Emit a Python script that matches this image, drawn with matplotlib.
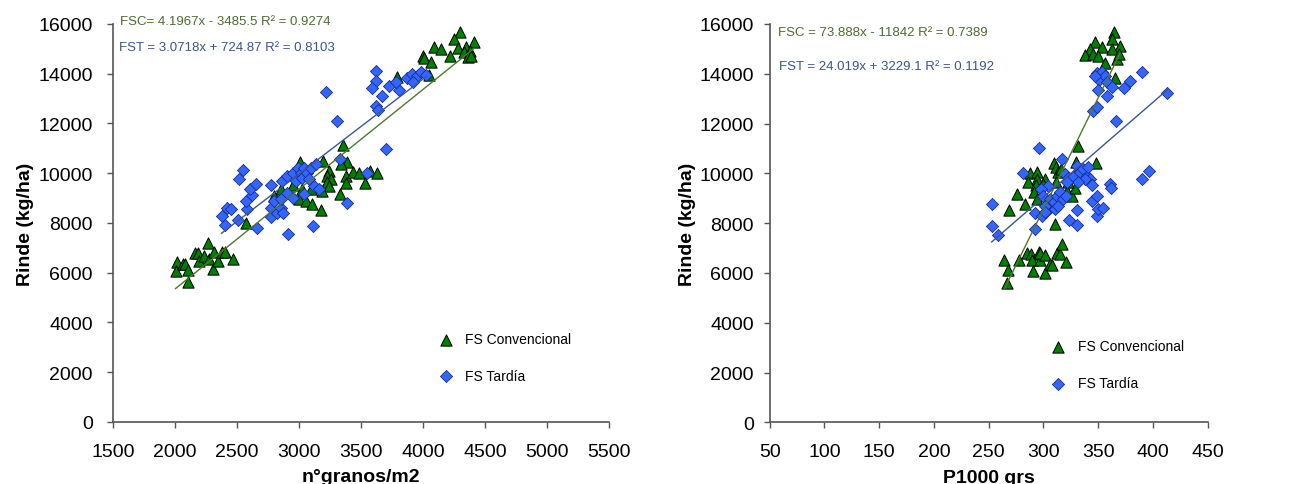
import numpy as np
import matplotlib
matplotlib.use("Agg")
import matplotlib.pyplot as plt

plt.rcParams["font.family"] = ["Liberation Sans", "DejaVu Sans"]

# rendimiento vs n° granos/m2
fsc_granos = [2015, 2004, 2063, 2079, 2106, 2106, 2162, 2184, 2195, 2232, 2267, 2273,
              2305, 2318, 2347, 2380, 2404, 2471,
              3357, 3383, 3335, 3196, 3007, 3241, 3228, 3254, 3222, 3375, 3434, 3482,
              3375, 3244, 3188, 3099, 3026, 2954, 2852, 2798, 2999, 3053, 3107, 3180,
              3330, 2573, 3531, 3576, 3630,
              4295, 4247, 4086, 4145, 4220, 4279, 4349, 4408, 4327, 4381, 4363, 4386,
              4000, 4011, 4065, 4046, 3791]
fsc_rinde_g = [6436, 6057, 6367, 6367, 6098, 5614, 6798, 6798, 6488, 6690, 7173, 6540,
               6153, 6838, 6488, 6838, 6838, 6540,
               11123, 10450, 10357, 10490, 10450, 10087, 9886, 9753, 9644, 9886, 10047, 10023,
               9619, 9483, 9281, 9350, 9350, 9511, 9350, 9079, 8947, 8879, 8745, 8516,
               9148, 7979, 9619, 10087, 10023,
               15662, 15394, 15084, 14991, 14722, 15020, 15084, 15260, 14857, 14923, 14657, 14722,
               14722, 14617, 14456, 13944, 13851]

fst_granos = [3617, 3619, 3590, 3724, 3671, 3810, 3872, 3912, 3952, 3984, 4027, 3923,
              3786, 3619, 3635, 3214, 3308, 3703,
              3550, 3330, 3389, 3115, 2914, 2659, 2508, 2401, 2375, 2423, 2450, 2584,
              2576, 2624, 2603, 2651, 2512, 2552, 2772, 2772, 2772, 2798, 2825, 2852,
              2874, 2866, 2906, 2951, 2973, 2991, 3013, 3040, 3026, 3067, 3093, 3134,
              3080, 2906, 2954, 3040, 3120, 3160, 2852]
fst_rinde_g = [14117, 13714, 13420, 13488, 13109, 13351, 13811, 13984, 13891, 14077, 13944, 13674,
               13649, 12682, 12533, 13246, 12102, 10990,
               10023, 10559, 8785, 7871, 7536, 7778, 8112, 7911, 8274, 8584, 8544, 8544,
               8879, 9108, 9378, 9551, 9781, 10115, 9511, 8612, 8249, 8879, 8411, 8612,
               8411, 9685, 9886, 10023, 9685, 10224, 10023, 10224, 9818, 10023, 10224, 10357,
               9753, 9216, 9015, 9148, 9483, 9350, 8947]

# rendimiento vs P1000
fsc_p1000 = [264.3, 267.4, 266.8, 277.8, 285.1, 288.2, 289.1, 290.6, 296.0, 296.6, 296.9,
             301.8, 301.8, 306.4, 308.0, 312.0, 314.8, 317.3, 320.3,
             331.3, 347.7, 309.6, 311.5, 313.6, 316.0, 329.7, 330.3, 287.7, 293.8, 294.4,
             286.2, 301.4, 299.9, 293.2, 275.6, 291.6, 293.8, 283.1, 268.8, 311.5, 321.2,
             325.8, 328.8, 322.7, 310.5,
             364.7, 362.9, 347.1, 353.2, 369.9, 342.5, 337.9, 345.0, 350.1, 362.3, 366.9,
             369.0, 356.2, 365.3]
fsc_rinde_p = [6512, 6123, 5588, 6512, 6822, 6754, 6525, 6083, 6846, 6512, 6790,
               6713, 6018, 6364, 6310, 6794, 6754, 7156, 6444,
               11111, 10416, 10416, 10243, 10043, 10175, 10469, 10175, 10014, 10043, 9773,
               9641, 9773, 9573, 9533, 9171, 9239, 8970, 8769, 8540, 9641, 9303,
               9103, 9400, 9641, 7966,
               15667, 15397, 15265, 15064, 15128, 14996, 14754, 14795, 14727, 14996, 14594,
               14795, 14433, 13831]

fst_p1000 = [296.2, 281.6, 252.7, 252.7, 258.8, 292.3, 292.3, 298.4, 323.3, 330.3, 330.3,
             344.0, 348.6, 348.6, 350.1, 354.7, 360.8, 361.4, 389.7, 396.6, 413.1, 389.7,
             379.0, 373.8, 366.2, 345.5, 349.2, 348.6, 353.2, 351.0, 356.2, 358.3, 362.3,
             350.1, 357.8, 347.1,
             316.7, 319.7, 322.7, 327.3, 330.3, 333.4, 336.4, 339.5, 341.0, 342.5, 338.0,
             331.8, 344.0, 304.4, 297.5, 299.9, 306.0, 309.0, 312.1, 315.1, 305.3, 310.5,
             313.6, 301.4, 318.2, 320.6, 301.4, 321.2]
fst_rinde_p = [11006, 10014, 8769, 7873, 7524, 7765, 8408, 8275, 8114, 7926, 8540,
               8902, 9103, 8300, 8569, 8597, 9573, 9400, 9773, 10107, 13228, 14083,
               13722, 13417, 12115, 12517, 12654, 14031, 14083, 13762, 13899, 13682, 13457,
               13361, 13120, 13924,
               10577, 9974, 9801, 9842, 10308, 10043, 10175, 9906, 10243, 9773, 9773,
               9667, 9533, 9506, 9373, 9103, 8970, 8809, 9103, 9239, 8569, 8569,
               8702, 8676, 8970, 9103, 8436, 9667]

eq_g = ["FSC= 4.1967x - 3485.5 R² = 0.9274", "FST = 3.0718x + 724.87 R² = 0.8103"]
eq_p = ["FSC = 73.888x - 11842 R² = 0.7389", "FST = 24.019x + 3229.1 R² = 0.1192"]

GREEN = "#008000"
BLUE = "#3366FF"
LINE_G = "#4F7A28"
LINE_B = "#3A5795"
TXT_G = "#4E6B2E"
TXT_B = "#3B5591"

fig = plt.figure(figsize=(13.14, 4.85), dpi=100)
ax1 = fig.add_axes([0.0860, 0.128, 0.3775, 0.8206])
ax2 = fig.add_axes([0.5858, 0.127, 0.3333, 0.8216])


def panel(ax, xg, yg, xb, yb, eqs, eq_pos, xlim, xticks, xlabel, leg_anchor,
          ypad, ylabelpad):
    ax.scatter(xg, yg, marker="^", s=66, c=GREEN, edgecolors="black", linewidths=0.7,
               label="FS Convencional", zorder=3)
    ax.scatter(xb, yb, marker="D", s=38, c=BLUE, edgecolors="#1A2A8C", linewidths=0.6,
               label="FS Tardía", zorder=3)
    # tendencia lineal de cada serie, entre su mínimo y su máximo
    for xs, ys, col in ((xg, yg, LINE_G), (xb, yb, LINE_B)):
        m, b = np.polyfit(xs, ys, 1)
        xx = np.array([min(xs), max(xs)])
        ax.plot(xx, m * xx + b, color=col, lw=1.0, zorder=4)
    ax.text(eq_pos[0][0], eq_pos[0][1], eqs[0], transform=ax.transAxes, color=TXT_G,
            fontsize=9.5, va="center", ha="left")
    ax.text(eq_pos[1][0], eq_pos[1][1], eqs[1], transform=ax.transAxes, color=TXT_B,
            fontsize=9.5, va="center", ha="left")

    ax.set_xlim(*xlim)
    ax.set_ylim(0, 16000)
    ax.set_xticks(xticks)
    ax.set_yticks(range(0, 16001, 2000))
    ax.set_xlabel(xlabel, fontsize=14, fontweight="bold", labelpad=6)
    ax.set_ylabel("Rinde (kg/ha)", fontsize=14, fontweight="bold", labelpad=ylabelpad)
    ax.tick_params(labelsize=14, length=4.5, width=1, color="#555555")
    ax.tick_params(axis="x", pad=10.5)
    ax.tick_params(axis="y", pad=ypad)
    for s in ("top", "right"):
        ax.spines[s].set_visible(False)
    for s in ("left", "bottom"):
        ax.spines[s].set_color("#555555")
        ax.spines[s].set_linewidth(1.2)
    ax.legend(loc="upper left", bbox_to_anchor=leg_anchor, frameon=False, fontsize=10,
              labelspacing=1.65, handlelength=1.0, handletextpad=0.9, borderpad=0,
              scatterpoints=1)


panel(ax1, fsc_granos, fsc_rinde_g, fst_granos, fst_rinde_g,
      eq_g, [(0.014, 1.008), (0.012, 0.943)], (1500, 5500), range(1500, 5501, 500),
      "n°granos/m2", (0.643, 0.243), 10, 3)
panel(ax2, fsc_p1000, fsc_rinde_p, fst_p1000, fst_rinde_p,
      eq_p, [(0.018, 0.979), (0.021, 0.895)], (50, 450), range(50, 451, 50),
      "P1000 grs", (0.627, 0.226), 7, 2)

fig.savefig("out.png", dpi=100)
